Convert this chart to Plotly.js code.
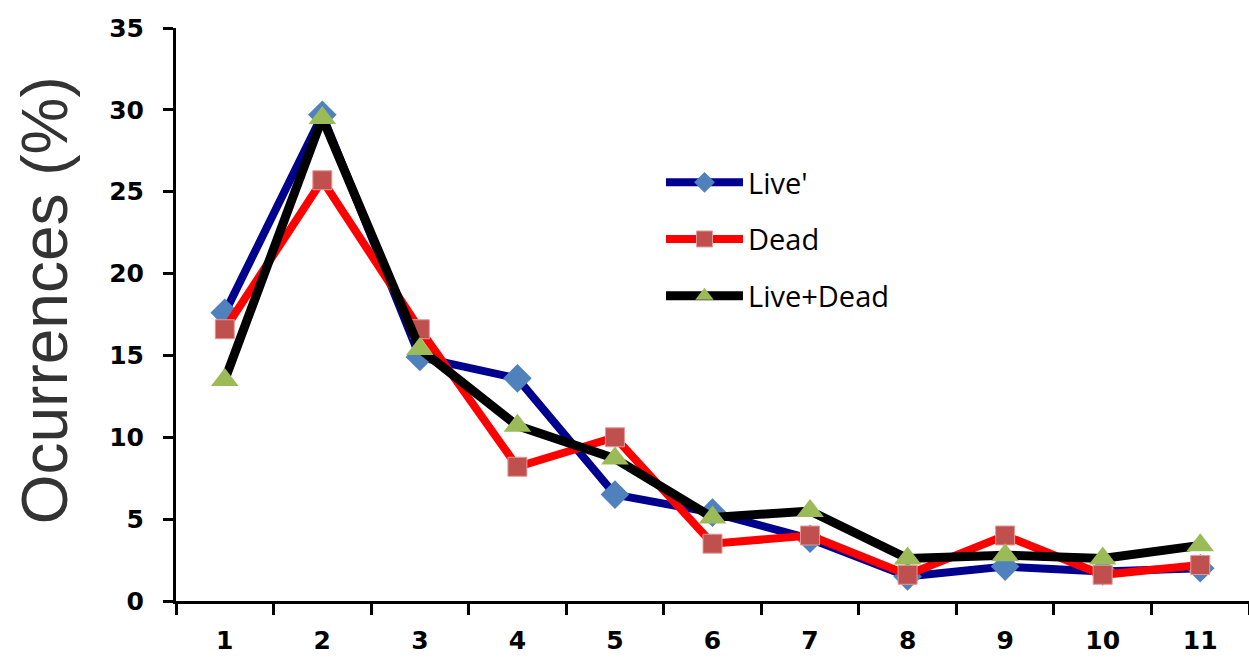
<!DOCTYPE html>
<html>
<head>
<meta charset="utf-8">
<script src="https://cdn.plot.ly/plotly-3.0.1.min.js"></script>
<style>
  html, body { margin: 0; padding: 0; background: #ffffff; }
  #chart { width: 1249px; height: 659px; }
</style>
</head>
<body>
<div id="chart"></div>
<script>
// Size classes on the x axis
const categories = ['1', '2', '3', '4', '5', '6', '7', '8', '9', '10', '11'];

// Occurrence percentages per class
const liveValues = [17.6, 29.7, 14.9, 13.6, 6.5, 5.4, 3.8, 1.5, 2.1, 1.8, 2.0];
const deadValues = [16.6, 25.7, 16.6, 8.2, 10.0, 3.5, 4.0, 1.6, 4.0, 1.6, 2.2];
const liveDeadValues = [13.5, 29.5, 15.4, 10.7, 8.7, 5.1, 5.5, 2.6, 2.8, 2.6, 3.4];

const seriesNames = ["Live'", 'Dead', 'Live+Dead'];
const yTickValues = [0, 5, 10, 15, 20, 25, 30, 35];
const yTitle = 'Ocurrences (%)';

const traces = [
  {
    x: categories, y: liveValues, name: seriesNames[0], legendgroup: 'a',
    type: 'scatter', mode: 'lines+markers',
    line: { color: '#00008f', width: 8 },
    marker: { symbol: 'diamond', size: 22, color: '#4f81bd' }
  },
  {
    x: categories, y: deadValues, name: seriesNames[1], legendgroup: 'b',
    type: 'scatter', mode: 'lines+markers',
    line: { color: '#ff0000', width: 8 },
    marker: { symbol: 'square', size: 19, color: '#c0504d',
              line: { color: '#e39a98', width: 1 } }
  },
  {
    x: categories, y: liveDeadValues, name: seriesNames[2], legendgroup: 'c',
    type: 'scatter', mode: 'lines+markers',
    line: { color: '#000000', width: 9 },
    marker: { symbol: 'triangle-up', size: 24, color: '#9bbb59' }
  }
];

const tickFont = { family: 'DejaVu Sans, Liberation Sans, sans-serif', size: 25, color: '#000000', weight: 'bold' };

const layout = {
  width: 1249,
  height: 659,
  margin: { l: 176, r: 0, t: 28, b: 58 },
  paper_bgcolor: '#ffffff',
  plot_bgcolor: '#ffffff',
  showlegend: true,
  legend: {
    x: 0.452, y: 0.775, xanchor: 'left', yanchor: 'top',
    font: { family: 'Open Sans, Liberation Sans, sans-serif', size: 29, color: '#000000' },
    bgcolor: 'rgba(0,0,0,0)',
    tracegroupgap: 16,
    itemwidth: 77
  },
  xaxis: {
    type: 'category',
    range: [-0.5, 10.5],
    showgrid: false,
    zeroline: false,
    showline: true,
    linecolor: '#000000',
    linewidth: 3,
    ticks: 'outside',
    tickson: 'boundaries',
    ticklen: 11,
    tickwidth: 3,
    tickcolor: '#000000',
    tickfont: tickFont,
    ticklabelstandoff: 15
  },
  yaxis: {
    range: [0, 35],
    tickvals: yTickValues,
    showgrid: false,
    zeroline: false,
    showline: true,
    linecolor: '#000000',
    linewidth: 3,
    ticks: 'outside',
    ticklen: 10,
    tickwidth: 3,
    tickcolor: '#000000',
    tickfont: tickFont,
    ticklabelstandoff: 14
  },
  // Rotated y-axis title, placed just left of the tick labels
  annotations: [{
    text: yTitle,
    xref: 'paper', yref: 'paper',
    x: -0.122, y: 0.525,
    xanchor: 'center', yanchor: 'middle',
    textangle: -90,
    showarrow: false,
    font: { family: 'Liberation Sans, Arial, sans-serif', size: 64, color: '#333333' }
  }]
};

Plotly.newPlot('chart', traces, layout, { displayModeBar: false, staticPlot: true });
</script>
</body>
</html>
